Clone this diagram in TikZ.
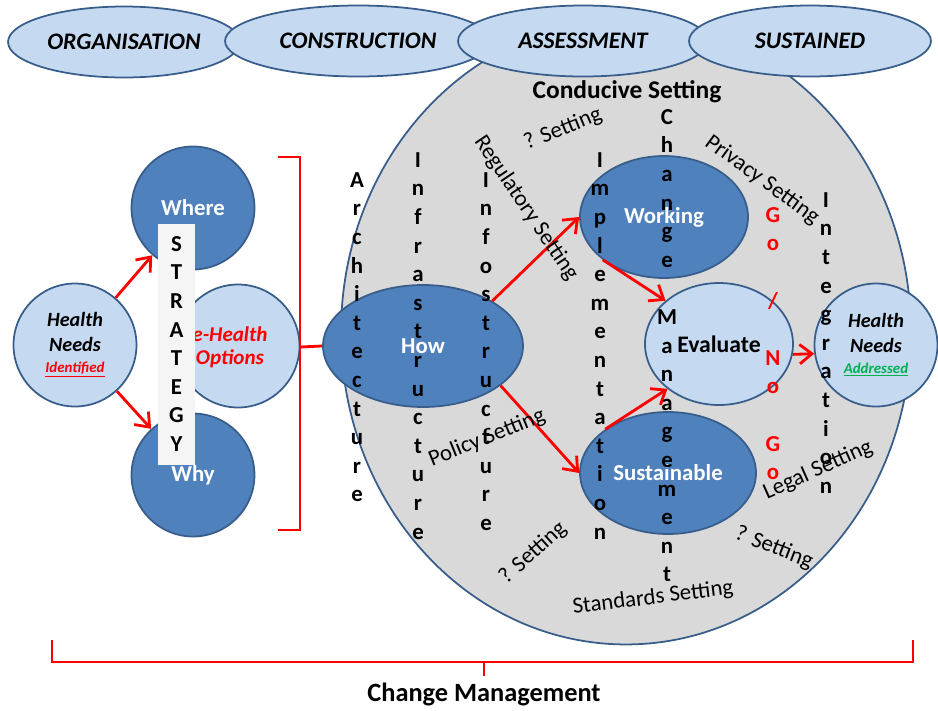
\documentclass[tikz,border=0pt]{standalone}
\usepackage{fontspec}
\setmainfont{Carlito}
\usepackage{xcolor}
\usepackage{tikz}
\usetikzlibrary{shapes.geometric}
\usetikzlibrary{arrows.meta}
\definecolor{lightblue}{RGB}{197,217,241}
\definecolor{darkblue}{RGB}{79,129,189}
\definecolor{edgeblue}{RGB}{56,93,138}
\definecolor{settinggray}{RGB}{217,217,217}
\definecolor{addgreen}{RGB}{0,176,80}
\newcommand\vword[4]{\foreach \ch [count=\k from 0] in {#4} \node[vletter] (#1-\k) at (#2,{#3+\k*28.6}) {\ch};}

\begin{document}
\begin{tikzpicture}[x=0.02cm,y=-0.02cm,
        phase/.style={ellipse,draw=edgeblue,line width=1pt,fill=lightblue,inner sep=0,minimum height=1.42cm,font=\bfseries\itshape\fontsize{13.5}{15}\selectfont},
        lightcircle/.style={circle,draw=edgeblue,line width=1pt,fill=lightblue,inner sep=0,minimum size=2.46cm},
        darkcircle/.style={circle,draw=edgeblue,line width=1pt,fill=darkblue,inner sep=0,minimum size=2.46cm,text=white,font=\bfseries\fontsize{13}{15}\selectfont},
        darkoval/.style={ellipse,draw=edgeblue,line width=1pt,fill=darkblue,inner sep=0,minimum height=2.44cm,text=white,font=\bfseries\fontsize{13}{15}\selectfont},
        needtext/.style={align=center,font=\bfseries\itshape\fontsize{11.5}{14}\selectfont},
        vletter/.style={anchor=mid,inner sep=0,font=\bfseries\fontsize{13}{14}\selectfont},
        setlabel/.style={inner sep=0,font=\fontsize{13}{15}\selectfont},
        redline/.style={draw=red,line width=1.6pt},
        redarrow/.style={redline,-{Straight Barb[length=7pt,width=11pt,line width=1.6pt]}}]
        \useasboundingbox (0,0) rectangle (938,711);
        % conducive setting
        \node[ellipse,draw=edgeblue,line width=1pt,fill=settinggray,inner sep=0,minimum width=11.4cm,minimum height=12.5cm] (setting) at (626,332) {};
        \node[font=\bfseries\fontsize{14.5}{16}\selectfont] (conducive) at (627,92) {Conducive Setting};
        % phases
        \node[phase,minimum width=4.64cm] (org) at (124,42) {ORGANISATION};
        \node[phase,minimum width=5.32cm] (con) at (358,41) {CONSTRUCTION};
        \node[phase,minimum width=5.0cm] (ass) at (583,41) {ASSESSMENT};
        \node[phase,minimum width=4.84cm] (sus) at (810,41) {SUSTAINED};
        % strategy
        \node[lightcircle,needtext] (need1) at (75,345) {Health\\Needs\\[-2pt]{\fontsize{8.5}{10}\selectfont\color{red}\underline{Identified}}};
        \node[darkcircle] (where) at (193,208) {Where};
        \node[darkcircle] (why) at (193,475) {Why};
        \node[lightcircle] (opts) at (238,346) {};
        \node[needtext,text=red,font=\bfseries\itshape\fontsize{12}{13}\selectfont] (optstext) at (230,347) {e-Health\\Options};
        \node[draw=none,fill=gray!8,inner sep=0,minimum width=0.74cm,minimum height=4.82cm] (strategy) at (176.5,344.5) {};
        \vword{strat}{176.5}{247}{S,T,R,A,T,E,G,Y}
        \draw[redarrow] (need1) -- (where);
        \draw[redarrow] (need1) -- (why);
        % bracket
        \coordinate (bt) at (278,157);
        \coordinate (bb) at (278,530);
        \draw[redline] (bt) -| (300,530) -- (bb);
        % process
        \node[darkoval,minimum width=4.0cm] (how) at (423,346) {How};
        \node[darkoval,minimum width=3.36cm] (working) at (664,217) {Working};
        \node[darkoval,minimum width=3.52cm] (sustain) at (668,473) {Sustainable};
        \node[ellipse,draw=edgeblue,line width=1pt,fill=lightblue,inner sep=0,minimum width=2.96cm,minimum height=2.44cm,font=\bfseries\fontsize{13.5}{15}\selectfont] (evaluate) at (719,344) {Evaluate};
        \node[lightcircle,needtext] (need2) at (876,345) {Health\\Needs\\[-2pt]{\fontsize{8.5}{10}\selectfont\color{addgreen}\underline{Addressed}}};
        \draw[redline] (300,347) -- (how.west);
        \draw[redarrow] (how.33) -- (working.west);
        \draw[redarrow] (how.-27) -- (sustain.west);
        \draw[redarrow] (working.215) -- (evaluate.141);
        \draw[redarrow] (sustain.145) -- (evaluate.221);
        \draw[redarrow] (evaluate.-8) -- (need2.188);
        % vertical words
        \vword{arch}{357}{183}{A,r,c,h,i,t,e,c,t,u,r,e}
        \vword{infra}{418}{163}{I,n,f,r,a,s,t,r,u,c,t,u,r,e}
        \vword{info}{486}{183}{I,n,f,o,s,t,r,u,c,t,u,r,e}
        \vword{impl}{600}{163}{I,m,p,l,e,m,e,n,t,a,t,i,o,n}
        \vword{chm}{667}{120}{C,h,a,n,g,e,{},M,a,n,a,g,e,m,e,n,t}
        \vword{integ}{826}{203}{I,n,t,e,g,r,a,t,i,o,n}
        \begin{scope}[vletter/.append style={text=red}]
        \vword{gonogo}{773}{218}{G,o,{},/,{},N,o,{},G,o}
        \end{scope}
        % settings
        \node[setlabel,rotate=22] (q1) at (563,129) {? Setting};
        \node[setlabel,rotate=-56] (regul) at (526,208) {Regulatory Setting};
        \node[setlabel,rotate=-36] (priv) at (762,180) {Privacy Setting};
        \node[setlabel,rotate=22] (policy) at (487,438) {Policy Setting};
        \node[setlabel,rotate=42] (q2) at (533,553) {? Setting};
        \node[setlabel,rotate=7] (stand) at (653,598) {Standards Setting};
        \node[setlabel,rotate=-21] (q3) at (774,548) {? Setting};
        \node[setlabel,rotate=24] (legal) at (818,470) {Legal Setting};
        % change management
        \node[font=\bfseries\fontsize{15}{17}\selectfont] (chg) at (484,694) {Change Management};
        \coordinate (cl) at (52,640);
        \coordinate (cr) at (913,640);
        \draw[redline] (cl) |- (cr |- 0,662) -- (cr);
        \draw[redline] (484,662) -- (chg.north);
    \end{tikzpicture}
\end{document}
